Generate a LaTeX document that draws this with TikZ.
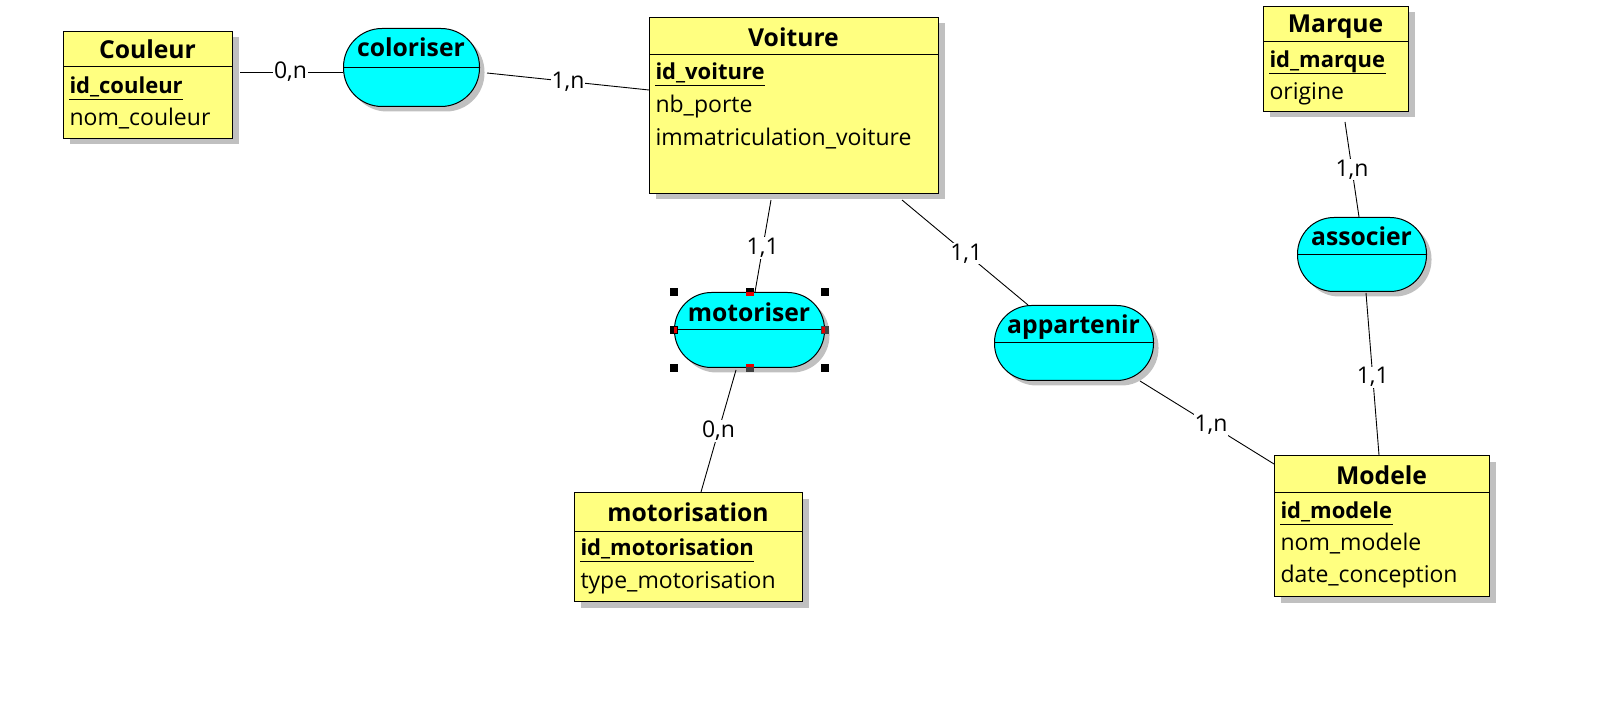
\documentclass[tikz,border=0pt]{standalone}
\usepackage{fontspec}
\setmainfont{Open Sans}
\usetikzlibrary{calc,shadows}
\definecolor{entyellow}{RGB}{255,255,128}
\definecolor{assoccyan}{RGB}{0,255,255}
\definecolor{shadowgray}{RGB}{192,192,192}
\definecolor{handlered}{RGB}{230,0,0}
\definecolor{handledark}{RGB}{64,64,64}
\begin{document}
\begin{tikzpicture}[x=1pt,y=-1pt,line width=1pt,
 ent/.style={draw=black,fill=entyellow,rectangle,anchor=north west,inner sep=0pt,
   general shadow={fill=shadowgray,shadow xshift=6pt,shadow yshift=-6pt}},
 assoc/.style={draw=black,fill=assoccyan,rectangle,anchor=north west,inner sep=0pt,
   general shadow={fill=shadowgray,shadow xshift=5pt,shadow yshift=-5pt}},
 ttl/.style={font=\fontsize{24.7}{28}\selectfont\bfseries,anchor=base,inner sep=0pt},
 attr/.style={font=\fontsize{23}{27}\selectfont,anchor=base west,inner sep=0pt},
 key/.style={font=\fontsize{22}{26}\selectfont\bfseries,anchor=base west,inner sep=0pt},
 lbl/.style={font=\fontsize{23}{27}\selectfont,fill=white,inner sep=1pt},
 conn/.style={draw=black,line width=0.9pt},
 uline/.style={line width=1pt},
]
\useasboundingbox (0,0) rectangle (1617,708);

% ---------- entities ----------
\node[ent,minimum width=169pt,minimum height=107pt] (couleur) at (63,31) {};
\draw (couleur.north west) ++(0,36) -- ++(169,0);
\node[ttl] (couleur-t) at ([shift={(84.5,28)}]couleur.north west) {Couleur};
\node[key] (couleur-k) at ([shift={(6,63)}]couleur.north west) {id\_couleur};
\draw[uline] ([yshift=-6pt]couleur-k.base west) -- ([yshift=-6pt]couleur-k.base east);
\node[attr] (couleur-a1) at ([shift={(6,95)}]couleur.north west) {nom\_couleur};

\node[ent,minimum width=289pt,minimum height=176pt] (voiture) at (649,17) {};
\draw (voiture.north west) ++(0,38) -- ++(289,0);
\node[ttl] (voiture-t) at ([shift={(144.5,29.5)}]voiture.north west) {Voiture};
\node[key] (voiture-k) at ([shift={(6,63)}]voiture.north west) {id\_voiture};
\draw[uline] ([yshift=-6pt]voiture-k.base west) -- ([yshift=-6pt]voiture-k.base east);
\node[attr] (voiture-a1) at ([shift={(6,96)}]voiture.north west) {nb\_porte};
\node[attr] (voiture-a2) at ([shift={(6,129)}]voiture.north west) {immatriculation\_voiture};

\node[ent,minimum width=145pt,minimum height=105pt] (marque) at (1263,6) {};
\draw (marque.north west) ++(0,36) -- ++(145,0);
\node[ttl] (marque-t) at ([shift={(72.5,27)}]marque.north west) {Marque};
\node[key] (marque-k) at ([shift={(6,62)}]marque.north west) {id\_marque};
\draw[uline] ([yshift=-6pt]marque-k.base west) -- ([yshift=-6pt]marque-k.base east);
\node[attr] (marque-a1) at ([shift={(6,94)}]marque.north west) {origine};

\node[ent,minimum width=215pt,minimum height=141pt] (modele) at (1274,455) {};
\draw (modele.north west) ++(0,37) -- ++(215,0);
\node[ttl] (modele-t) at ([shift={(107.5,29)}]modele.north west) {Modele};
\node[key] (modele-k) at ([shift={(6,63)}]modele.north west) {id\_modele};
\draw[uline] ([yshift=-6pt]modele-k.base west) -- ([yshift=-6pt]modele-k.base east);
\node[attr] (modele-a1) at ([shift={(6,95)}]modele.north west) {nom\_modele};
\node[attr] (modele-a2) at ([shift={(6,127)}]modele.north west) {date\_conception};

\node[ent,minimum width=228pt,minimum height=109pt] (motorisation) at (574,492) {};
\draw (motorisation.north west) ++(0,39) -- ++(228,0);
\node[ttl] (motorisation-t) at ([shift={(114,29)}]motorisation.north west) {motorisation};
\node[key] (motorisation-k) at ([shift={(6,63)}]motorisation.north west) {id\_motorisation};
\draw[uline] ([yshift=-6pt]motorisation-k.base west) -- ([yshift=-6pt]motorisation-k.base east);
\node[attr] (motorisation-a1) at ([shift={(6,96)}]motorisation.north west) {type\_motorisation};

% ---------- associations ----------
\node[assoc,rounded corners=38.5pt,minimum width=136pt,minimum height=78pt] (coloriser) at (343,28) {};
\draw (coloriser.west) -- (coloriser.east);
\node[ttl] (coloriser-t) at ([shift={(68,29)}]coloriser.north west) {coloriser};

\node[assoc,rounded corners=37pt,minimum width=150pt,minimum height=75pt] (motoriser) at (674,292) {};
\draw (motoriser.west) -- (motoriser.east);
\node[ttl] (motoriser-t) at ([shift={(75,29.5)}]motoriser.north west) {motoriser};

\node[assoc,rounded corners=37pt,minimum width=159pt,minimum height=75pt] (appartenir) at (994,305) {};
\draw (appartenir.west) -- (appartenir.east);
\node[ttl] (appartenir-t) at ([shift={(79.5,29)}]appartenir.north west) {appartenir};

\node[assoc,rounded corners=36.5pt,minimum width=129pt,minimum height=74pt] (associer) at (1297,217) {};
\draw (associer.west) -- (associer.east);
\node[ttl] (associer-t) at ([shift={(64.5,29)}]associer.north west) {associer};

% ---------- connectors ----------
\draw[conn] ([shift={(7,41)}]couleur.north east) -- ([shift={(0,44)}]coloriser.north west)
  node[lbl,pos=0.49] (l1) {0,n};
\draw[conn] ([shift={(144,45)}]coloriser.north west) -- ([shift={(0,73)}]voiture.north west)
  node[lbl,midway] (l2) {1,n};
\draw[conn] ([shift={(122,183)}]voiture.north west) -- ([shift={(81,0)}]motoriser.north west)
  node[lbl,pos=0.52] (l3) {1,1};
\draw[conn] ([shift={(62,78)}]motoriser.north west) -- ([shift={(127,0)}]motorisation.north west)
  node[lbl,midway] (l4) {0,n};
\draw[conn] ([shift={(253,183)}]voiture.north west) -- ([shift={(34,0)}]appartenir.north west)
  node[lbl,pos=0.51] (l5) {1,1};
\draw[conn] ([shift={(146,76)}]appartenir.north west) -- ([shift={(0,9)}]modele.north west)
  node[lbl,pos=0.53] (l6) {1,n};
\draw[conn] ([shift={(82,116)}]marque.north west) -- ([shift={(62,0)}]associer.north west)
  node[lbl,midway] (l7) {1,n};
\draw[conn] ([shift={(69,76)}]associer.north west) -- ([shift={(105,0)}]modele.north west)
  node[lbl,pos=0.52] (l8) {1,1};

% ---------- selection handles on motoriser ----------
\foreach \a in {north west,north east,south west,south east}{
  \fill[black] ([shift={(-4,-4)}]motoriser.\a) rectangle ++(8,8);
}
\fill[black] ([shift={(-4,-4)}]motoriser.north) rectangle ++(8,4);
\fill[handlered] ([shift={(-4,0)}]motoriser.north) rectangle ++(8,4);
\fill[handlered] ([shift={(-4,-4)}]motoriser.south) rectangle ++(8,3);
\fill[handledark] ([shift={(-4,-1)}]motoriser.south) rectangle ++(8,5);
\fill[black] ([shift={(-4,-4)}]motoriser.west) rectangle ++(8,8);
\fill[handlered] ([shift={(0,-3)}]motoriser.west) rectangle ++(3,6);
\fill[handledark] ([shift={(-4,-4)}]motoriser.east) rectangle ++(8,8);
\fill[handlered] ([shift={(-3,-3)}]motoriser.east) rectangle ++(3,6);
\end{tikzpicture}
\end{document}
